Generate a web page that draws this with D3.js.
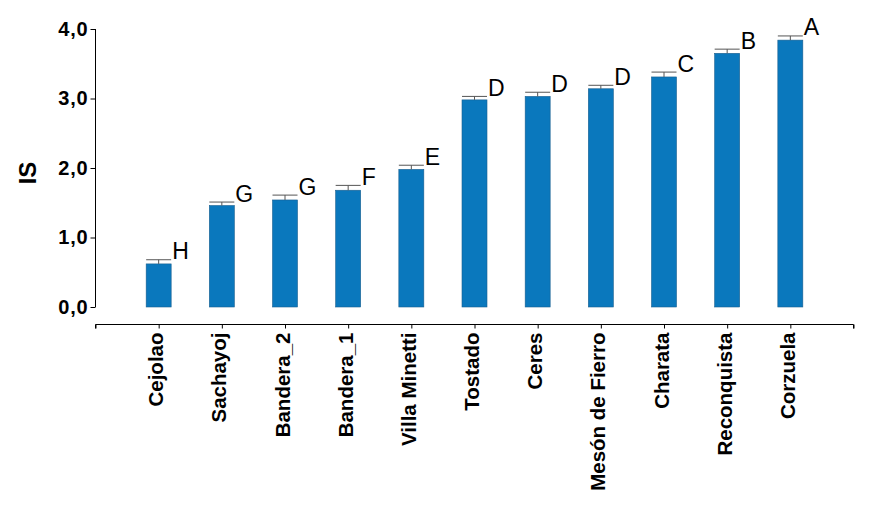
<!DOCTYPE html>
<html>
<head>
<meta charset="utf-8">
<script src="https://cdn.jsdelivr.net/npm/d3@7"></script>
<style>
html,body{margin:0;padding:0;background:#fff;}
svg{display:block;font-family:"Liberation Sans",Arial,sans-serif;}
</style>
</head>
<body>
<svg id="chart" width="884" height="531"></svg>
<script>
const categories = ["Cejolao","Sachayoj","Bandera_2","Bandera_1","Villa Minetti","Tostado","Ceres","Mesón de Fierro","Charata","Reconquista","Corzuela"];
const values = [0.62, 1.46, 1.54, 1.68, 1.98, 2.98, 3.03, 3.14, 3.31, 3.65, 3.84];
const errors = [0.06, 0.05, 0.07, 0.07, 0.06, 0.05, 0.06, 0.05, 0.07, 0.06, 0.06];
const groups = ["H","G","G","F","E","D","D","D","C","B","A"];
const yTicks = [0, 1, 2, 3, 4];
const yTickLabels = ["0,0","1,0","2,0","3,0","4,0"];
const yTitle = "IS";

const svg = d3.select("#chart");
const x = d3.scaleLinear().domain([0, categories.length + 1]).range([95.5, 853.5]);
const y = d3.scaleLinear().domain([0, 4]).range([307, 29]);
const barW = 25;
const color = "#0a78bd";

// Y axis
const yAxis = d3.axisLeft(y).tickValues(yTicks).tickSize(5).tickPadding(2)
  .tickFormat((d, i) => yTickLabels[i]);
const gy = svg.append("g").attr("transform", "translate(95.5,0)").call(yAxis);
gy.select(".domain").attr("d", `M0,${y(4)}V${y(0)}`).attr("stroke", "#000");
gy.selectAll(".tick line").attr("stroke", "#000");
gy.selectAll(".tick text").attr("font-size", 20).attr("font-weight", "bold").attr("fill", "#000")
  .attr("letter-spacing", 0.8);

// X axis (detached, below)
const xAxis = d3.axisBottom(x).tickValues(d3.range(0, categories.length + 2)).tickSize(4)
  .tickFormat(d => (d >= 1 && d <= categories.length) ? categories[d - 1] : "");
const gx = svg.append("g").attr("transform", "translate(0,324.5)").call(xAxis);
gx.select(".domain").attr("d", `M${x(0)},4V0H${x(categories.length + 1)}V4`).attr("stroke", "#000");
gx.selectAll(".tick line").attr("stroke", "#000");
gx.selectAll(".tick text")
  .attr("font-size", 20.5).attr("font-weight", "bold").attr("fill", "#000")
  .attr("text-anchor", "end")
  .attr("transform", "rotate(-90)")
  .attr("x", -8).attr("y", 0).attr("dy", "0.2em");

// Bars
const idx = d3.range(categories.length);
svg.append("g").selectAll("rect").data(idx).join("rect")
  .attr("x", i => x(i + 1) - barW / 2)
  .attr("y", i => y(values[i]))
  .attr("width", barW)
  .attr("height", i => y(0) - y(values[i]))
  .attr("fill", color)
  .attr("stroke", "#1a5f8f").attr("stroke-width", 0.6);

// Error bars
const eg = svg.append("g").attr("stroke", "#555").attr("stroke-width", 1);
eg.selectAll("line.v").data(idx).join("line").attr("class", "v")
  .attr("x1", i => x(i + 1)).attr("x2", i => x(i + 1))
  .attr("y1", i => y(values[i])).attr("y2", i => y(values[i] + errors[i]));
eg.selectAll("line.h").data(idx).join("line").attr("class", "h")
  .attr("x1", i => x(i + 1) - barW / 2).attr("x2", i => x(i + 1) + barW / 2)
  .attr("y1", i => y(values[i] + errors[i])).attr("y2", i => y(values[i] + errors[i]));

// Group letters
svg.append("g").selectAll("text").data(idx).join("text")
  .attr("x", i => x(i + 1) + barW / 2 + 1)
  .attr("y", i => y(values[i] + errors[i]) - 0.5)
  .attr("font-size", 23).attr("fill", "#000")
  .text(i => groups[i]);

// Y title
svg.append("text")
  .attr("transform", "translate(36,173) rotate(-90)")
  .attr("text-anchor", "middle")
  .attr("font-size", 24).attr("font-weight", "bold").attr("fill", "#000")
  .text(yTitle);
</script>
</body>
</html>
